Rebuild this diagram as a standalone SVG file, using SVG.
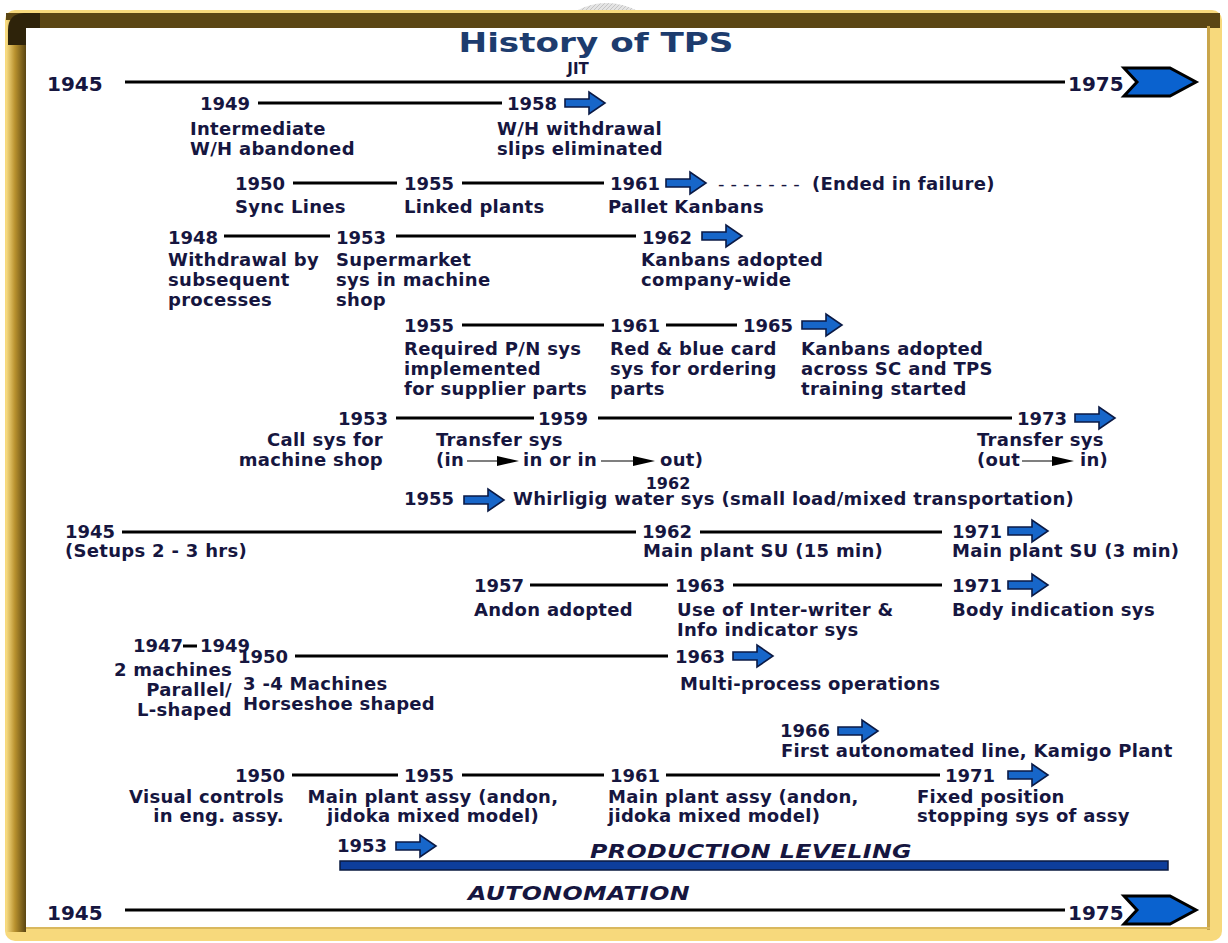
<svg xmlns="http://www.w3.org/2000/svg" width="1228" height="943" viewBox="0 0 1228 943">
<defs>
<style>
.t{font-family:"DejaVu Sans","Liberation Sans",sans-serif;font-weight:bold;font-size:18px;letter-spacing:0.3px;fill:#16163f}
.y{font-size:18px;letter-spacing:0}
.big{font-size:20px;letter-spacing:0}
.r{text-anchor:end}
.m{text-anchor:middle}
.ln{stroke:#000;stroke-width:3;fill:none}
.it{font-style:italic;font-size:19px}
.arr{fill:#1766c9;stroke:#0b1a45;stroke-width:1.6;stroke-linejoin:miter}
.chev{fill:#0a62cf;stroke:#000;stroke-width:3;stroke-linejoin:miter}
.thin{stroke:#555;stroke-width:1.5}
</style>
<path id="ba" class="arr" d="M0,-4 H24 V-11 L40,0 L24,11 V4 H0 Z"/>
<path id="sa" d="M0,-5 L22,0 L0,5 Z" fill="#000"/>
<linearGradient id="lg" x1="0" x2="1" y1="0" y2="0">
<stop offset="0" stop-color="#f9de86"/><stop offset="0.45" stop-color="#b8912e"/><stop offset="1" stop-color="#5a4512"/>
</linearGradient>
<pattern id="hatch" width="4" height="4" patternUnits="userSpaceOnUse">
<rect width="4" height="4" fill="#e4e4e4"/><path d="M0,4 L4,0" stroke="#c4c4c4" stroke-width="1"/>
</pattern>
</defs>
<rect width="1228" height="943" fill="#fff"/>
<path d="M574,12 Q606,-6 640,12 Z" fill="url(#hatch)"/>
<g id="frame">
<rect x="5" y="10" width="1217" height="931" rx="10" fill="#f7d97c"/>
<rect x="6" y="13" width="1214" height="15" fill="#5b4614"/>
<rect x="6" y="20" width="20" height="912" fill="url(#lg)"/>
<path d="M8,30 Q8,14 24,13 L40,13 L40,28 L26,28 L26,45 L8,45 Z" fill="#2e230a"/>
<rect x="1207" y="26" width="3" height="904" fill="#c9a54a"/>
<rect x="26" y="927" width="1184" height="2" fill="#d9b85e"/>
<rect x="26" y="28" width="1181" height="899" fill="#fff"/>
</g>
<text class="t" x="596" y="52" text-anchor="middle" textLength="275" lengthAdjust="spacingAndGlyphs" style="font-size:27px;letter-spacing:0;fill:#1d3c6e">History of TPS</text>
<g id="connectors">
<line class="ln" x1="125" y1="82" x2="1065" y2="82"/>
<line class="ln" x1="258" y1="103" x2="502" y2="103"/>
<line class="ln" x1="293" y1="183" x2="397" y2="183"/>
<line class="ln" x1="462" y1="183" x2="604" y2="183"/>
<line class="ln" x1="224" y1="236" x2="330" y2="236"/>
<line class="ln" x1="396" y1="236" x2="636" y2="236"/>
<line class="ln" x1="462" y1="325" x2="604" y2="325"/>
<line class="ln" x1="666" y1="325" x2="737" y2="325"/>
<line class="ln" x1="396" y1="418" x2="534" y2="418"/>
<line class="ln" x1="598" y1="418" x2="1012" y2="418"/>
<line class="ln" x1="122" y1="532" x2="636" y2="532"/>
<line class="ln" x1="700" y1="532" x2="942" y2="532"/>
<line class="ln" x1="530" y1="585" x2="668" y2="585"/>
<line class="ln" x1="733" y1="585" x2="942" y2="585"/>
<line class="ln" x1="183" y1="646" x2="197" y2="646"/>
<line class="ln" x1="295" y1="656" x2="668" y2="656"/>
<line class="ln" x1="292" y1="775" x2="398" y2="775"/>
<line class="ln" x1="462" y1="775" x2="604" y2="775"/>
<line class="ln" x1="666" y1="775" x2="940" y2="775"/>
<line class="ln" x1="125" y1="910" x2="1065" y2="910"/>
<rect x="340" y="861" width="828" height="9" fill="#0d3e9c" stroke="#0a1a40" stroke-width="1.5"/>
<use href="#ba" x="565" y="103"/>
<use href="#ba" x="666" y="183"/>
<use href="#ba" x="702" y="236"/>
<use href="#ba" x="802" y="325"/>
<use href="#ba" x="1075" y="418"/>
<use href="#ba" x="464" y="500"/>
<use href="#ba" x="1008" y="531"/>
<use href="#ba" x="1008" y="585"/>
<use href="#ba" x="733" y="656"/>
<use href="#ba" x="838" y="731"/>
<use href="#ba" x="1008" y="775"/>
<use href="#ba" x="396" y="846"/>
<polygon class="chev" points="1124,68 1170,68 1196,82 1170,96 1124,96 1137,82"/>
<polygon class="chev" points="1124,896 1170,896 1196,910 1170,924 1124,924 1137,910"/>
<line class="thin" x1="467" y1="461" x2="500" y2="461"/><use href="#sa" x="497" y="461"/>
<line class="thin" x1="601" y1="461" x2="636" y2="461"/><use href="#sa" x="633" y="461"/>
<line class="thin" x1="1022" y1="461" x2="1055" y2="461"/><use href="#sa" x="1052" y="461"/>
</g>
<g id="n-axis-top">
<text class="t big" x="47" y="91">1945</text>
<text class="t big" x="1068" y="91">1975</text>
<text class="t m" x="578" y="74" style="font-size:15px;letter-spacing:0">JIT</text>
</g>
<g id="n-1949"><text class="t y" x="200" y="110">1949</text><text class="t" x="190" y="135">Intermediate</text><text class="t" x="190" y="155">W/H abandoned</text></g>
<g id="n-1958"><text class="t y" x="507" y="110">1958</text><text class="t" x="497" y="135">W/H withdrawal</text><text class="t" x="497" y="155">slips eliminated</text></g>
<g id="n-1950a"><text class="t y" x="235" y="190">1950</text><text class="t" x="235" y="213">Sync Lines</text></g>
<g id="n-1955a"><text class="t y" x="404" y="190">1955</text><text class="t" x="404" y="213">Linked plants</text></g>
<g id="n-1961a"><text class="t y" x="610" y="190">1961</text><text class="t" x="608" y="213">Pallet Kanbans</text><text class="t" x="718" y="190" textLength="82" lengthAdjust="spacing" style="font-weight:normal">-------</text><text class="t" x="812" y="190">(Ended in failure)</text></g>
<g id="n-1948"><text class="t y" x="168" y="244">1948</text><text class="t" x="168" y="266">Withdrawal by</text><text class="t" x="168" y="286">subsequent</text><text class="t" x="168" y="306">processes</text></g>
<g id="n-1953a"><text class="t y" x="336" y="244">1953</text><text class="t" x="336" y="266">Supermarket</text><text class="t" x="336" y="286">sys in machine</text><text class="t" x="336" y="306">shop</text></g>
<g id="n-1962a"><text class="t y" x="642" y="244">1962</text><text class="t" x="641" y="266">Kanbans adopted</text><text class="t" x="641" y="286">company-wide</text></g>
<g id="n-1955b"><text class="t y" x="404" y="332">1955</text><text class="t" x="404" y="355">Required P/N sys</text><text class="t" x="404" y="375">implemented</text><text class="t" x="404" y="395">for supplier parts</text></g>
<g id="n-1961b"><text class="t y" x="610" y="332">1961</text><text class="t" x="610" y="355">Red &amp; blue card</text><text class="t" x="610" y="375">sys for ordering</text><text class="t" x="610" y="395">parts</text></g>
<g id="n-1965"><text class="t y" x="743" y="332">1965</text><text class="t" x="801" y="355">Kanbans adopted</text><text class="t" x="801" y="375">across SC and TPS</text><text class="t" x="801" y="395">training started</text></g>
<g id="n-1953b"><text class="t y r" x="388" y="425">1953</text><text class="t r" x="383" y="446">Call sys for</text><text class="t r" x="383" y="466">machine shop</text></g>
<g id="n-1959"><text class="t y" x="538" y="425">1959</text><text class="t" x="436" y="446">Transfer sys</text><text class="t" x="436" y="466">(in</text><text class="t" x="523" y="466">in or in</text><text class="t" x="660" y="466">out)</text></g>
<g id="n-1973"><text class="t y" x="1017" y="425">1973</text><text class="t" x="977" y="446">Transfer sys</text><text class="t" x="977" y="466">(out</text><text class="t" x="1080" y="466">in)</text></g>
<g id="n-1955c"><text class="t y" x="404" y="505">1955</text><text class="t" x="513" y="505">Whirligig water sys (small load/mixed transportation)</text><text class="t m" x="668" y="489" style="font-size:16px;letter-spacing:0">1962</text></g>
<g id="n-1945b"><text class="t y" x="65" y="538">1945</text><text class="t" x="65" y="557">(Setups 2 - 3 hrs)</text></g>
<g id="n-1962b"><text class="t y" x="642" y="538">1962</text><text class="t" x="643" y="557">Main plant SU (15 min)</text></g>
<g id="n-1971a"><text class="t y" x="952" y="538">1971</text><text class="t" x="952" y="557">Main plant SU (3 min)</text></g>
<g id="n-1957"><text class="t y" x="474" y="592">1957</text><text class="t" x="474" y="616">Andon adopted</text></g>
<g id="n-1963a"><text class="t y" x="675" y="592">1963</text><text class="t" x="677" y="616">Use of Inter-writer &amp;</text><text class="t" x="677" y="636">Info indicator sys</text></g>
<g id="n-1971b"><text class="t y" x="952" y="592">1971</text><text class="t" x="952" y="616">Body indication sys</text></g>
<g id="n-1947"><text class="t y" x="133" y="652">1947</text><text class="t y" x="200" y="652">1949</text><text class="t r" x="232" y="676">2 machines</text><text class="t r" x="232" y="696">Parallel/</text><text class="t r" x="232" y="716">L-shaped</text></g>
<g id="n-1950b"><text class="t y" x="238" y="663">1950</text><text class="t" x="243" y="690">3 -4 Machines</text><text class="t" x="243" y="710">Horseshoe shaped</text></g>
<g id="n-1963b"><text class="t y" x="675" y="663">1963</text><text class="t" x="680" y="690">Multi-process operations</text></g>
<g id="n-1966"><text class="t y" x="780" y="737">1966</text><text class="t" x="781" y="757">First autonomated line, Kamigo Plant</text></g>
<g id="n-1950c"><text class="t y r" x="285" y="782">1950</text><text class="t r" x="284" y="803">Visual controls</text><text class="t r" x="284" y="822">in eng. assy.</text></g>
<g id="n-1955d"><text class="t y" x="404" y="782">1955</text><text class="t m" x="433" y="803">Main plant assy (andon,</text><text class="t m" x="433" y="822">jidoka mixed model)</text></g>
<g id="n-1961c"><text class="t y" x="610" y="782">1961</text><text class="t" x="608" y="803">Main plant assy (andon,</text><text class="t" x="608" y="822">jidoka mixed model)</text></g>
<g id="n-1971c"><text class="t y" x="945" y="782">1971</text><text class="t" x="917" y="803">Fixed position</text><text class="t" x="917" y="822">stopping sys of assy</text></g>
<g id="n-1953c"><text class="t y" x="337" y="852">1953</text><text class="t it" x="590" y="858" textLength="322" lengthAdjust="spacingAndGlyphs">PRODUCTION LEVELING</text></g>
<g id="n-autonomation"><text class="t it" x="468" y="900" textLength="222" lengthAdjust="spacingAndGlyphs">AUTONOMATION</text></g>
<g id="n-axis-bottom"><text class="t big" x="47" y="920">1945</text><text class="t big" x="1068" y="920">1975</text></g>
</svg>
